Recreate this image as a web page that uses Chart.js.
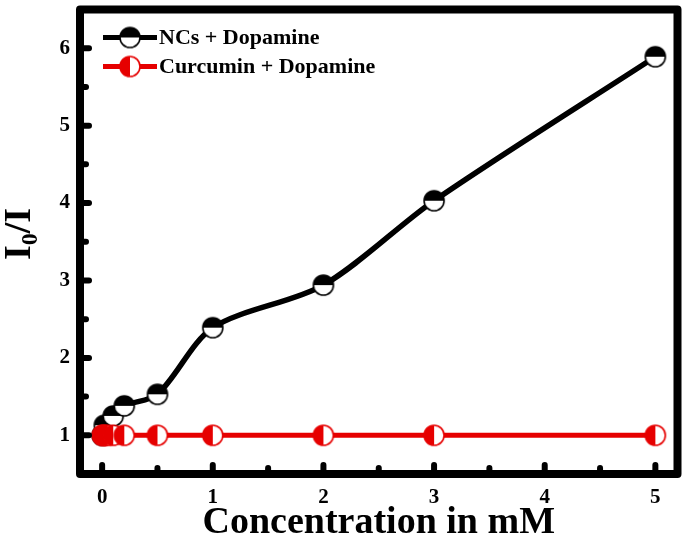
<!DOCTYPE html>
<html>
<head>
<meta charset="utf-8">
<script src="https://cdn.jsdelivr.net/npm/chart.js@4.4.0/dist/chart.umd.min.js"></script>
<style>
  html, body { margin: 0; padding: 0; background: #fff; }
  canvas { display: block; }
</style>
</head>
<body>
<canvas id="chart" width="687" height="540"></canvas>
<script>
/* Data */
const ncsConc = [0, 0.02, 0.1, 0.2, 0.5, 1, 2, 3, 5];
const ncsValues = [1.0, 1.13, 1.25, 1.38, 1.53, 2.39, 2.94, 4.03, 5.89];
const curConc = [0, 0.01, 0.02, 0.05, 0.1, 0.2, 0.5, 1, 2, 3, 5];
const curValues = [1, 1, 1, 1, 1, 1, 1, 1, 1, 1, 1];
const xTicks = [0, 0.5, 1, 1.5, 2, 2.5, 3, 3.5, 4, 4.5, 5];
const yTicks = [1, 1.5, 2, 2.5, 3, 3.5, 4, 4.5, 5, 5.5, 6];
const seriesNames = ["NCs + Dopamine", "Curcumin + Dopamine"];

const RED = "#e60000";
const FONT = "'Liberation Serif', 'Times New Roman', serif";

/* Half filled circle markers */
function halfMarker(color, split) {
    const c = document.createElement("canvas");
    c.width = 24; c.height = 24;
    const ctx = c.getContext("2d");
    const r = 10;
    ctx.beginPath();
    ctx.arc(12, 12, r, 0, Math.PI * 2);
    ctx.fillStyle = "#fff";
    ctx.fill();
    ctx.beginPath();
    if (split === "top") ctx.arc(12, 12, r, Math.PI, Math.PI * 2);
    else ctx.arc(12, 12, r, Math.PI / 2, Math.PI * 1.5);
    ctx.closePath();
    ctx.fillStyle = color;
    ctx.fill();
    ctx.beginPath();
    ctx.arc(12, 12, r, 0, Math.PI * 2);
    ctx.lineWidth = 1.6;
    ctx.strokeStyle = color;
    ctx.stroke();
    return c;
}

const ncsMarker = halfMarker("#000", "top");
const curMarker = halfMarker(RED, "left");

const toPoints = (xs, ys) => xs.map((x, i) => ({ x: x, y: ys[i] }));

/* Frame, inward ticks, axis titles, legend */
const decorPlugin = {
    id: "decor",
    afterDraw(chart) {
        const { ctx, chartArea: a, scales } = chart;
        ctx.save();

        // ticks
        ctx.strokeStyle = "#000";
        ctx.lineWidth = 6;
        ctx.lineCap = "round";
        scales.x.ticks.forEach(t => {
            const px = scales.x.getPixelForValue(t.value);
            const len = Number.isInteger(t.value) ? 9 : 6;
            ctx.beginPath();
            ctx.moveTo(px, a.bottom);
            ctx.lineTo(px, a.bottom - len);
            ctx.stroke();
        });
        scales.y.ticks.forEach(t => {
            const py = scales.y.getPixelForValue(t.value);
            const len = Number.isInteger(t.value) ? 9 : 6;
            ctx.beginPath();
            ctx.moveTo(a.left, py);
            ctx.lineTo(a.left + len, py);
            ctx.stroke();
        });

        // frame
        ctx.lineWidth = 8;
        ctx.lineJoin = "round";
        ctx.strokeRect(a.left, a.top, a.right - a.left, a.bottom - a.top);

        // x title
        ctx.fillStyle = "#000";
        ctx.font = "bold 38px " + FONT;
        ctx.textAlign = "center";
        ctx.textBaseline = "alphabetic";
        ctx.fillText("Concentration in mM", (a.left + a.right) / 2, 533);

        // y title with subscript
        ctx.save();
        ctx.translate(30, 234);
        ctx.rotate(-Math.PI / 2);
        ctx.textAlign = "left";
        ctx.font = "bold 38px " + FONT;
        const wI = ctx.measureText("I").width;
        ctx.font = "bold 24px " + FONT;
        const w0 = ctx.measureText("0").width;
        ctx.font = "bold 38px " + FONT;
        const wR = ctx.measureText("/I").width;
        const x0 = -(wI + w0 + wR) / 2;
        ctx.fillText("I", x0, 0);
        ctx.font = "bold 24px " + FONT;
        ctx.fillText("0", x0 + wI, 7);
        ctx.font = "bold 38px " + FONT;
        ctx.fillText("/I", x0 + wI + w0, 0);
        ctx.restore();

        // legend
        const rows = [
            { name: seriesNames[0], color: "#000", marker: ncsMarker },
            { name: seriesNames[1], color: RED, marker: curMarker }
        ];
        ctx.font = "bold 22px " + FONT;
        ctx.textAlign = "left";
        ctx.textBaseline = "middle";
        rows.forEach((r, i) => {
            const y = a.top + 28 + i * 29;
            const x1 = a.left + 23;
            ctx.strokeStyle = r.color;
            ctx.lineWidth = 5;
            ctx.lineCap = "butt";
            ctx.beginPath();
            ctx.moveTo(x1, y);
            ctx.lineTo(x1 + 54, y);
            ctx.stroke();
            ctx.drawImage(r.marker, x1 + 27 - 12, y - 12);
            ctx.fillStyle = "#000";
            ctx.fillText(r.name, x1 + 56, y + 1);
        });

        ctx.restore();
    }
};

new Chart(document.getElementById("chart"), {
    type: "line",
    data: {
        datasets: [
            {
                label: seriesNames[0],
                data: toPoints(ncsConc, ncsValues),
                borderColor: "#000",
                borderWidth: 5.5,
                tension: 0.3,
                pointStyle: ncsMarker,
                order: 1
            },
            {
                label: seriesNames[1],
                data: toPoints(curConc, curValues),
                borderColor: RED,
                borderWidth: 5,
                tension: 0,
                pointStyle: curMarker,
                order: 0
            }
        ]
    },
    options: {
        responsive: false,
        animation: false,
        devicePixelRatio: 1,
        layout: { padding: { top: 6, right: 8, left: 0, bottom: 0 } },
        plugins: {
            legend: { display: false },
            tooltip: { enabled: false }
        },
        scales: {
            x: {
                type: "linear",
                min: -0.2,
                max: 5.2,
                grid: { display: false },
                border: { display: false },
                afterBuildTicks: s => { s.ticks = xTicks.map(v => ({ value: v })); },
                afterFit: s => { s.height = 66; s.paddingLeft = 0; s.paddingRight = 0; },
                ticks: {
                    padding: 3,
                    color: "#000",
                    font: { family: FONT, size: 21, weight: "bold" },
                    callback: v => Number.isInteger(v) ? v : ""
                }
            },
            y: {
                type: "linear",
                min: 0.5,
                max: 6.5,
                grid: { display: false },
                border: { display: false },
                afterBuildTicks: s => { s.ticks = yTicks.map(v => ({ value: v })); },
                afterFit: s => { s.width = 80; s.paddingTop = 0; s.paddingBottom = 0; },
                ticks: {
                    padding: 2,
                    color: "#000",
                    font: { family: FONT, size: 21, weight: "bold" },
                    callback: v => Number.isInteger(v) ? v : ""
                }
            }
        }
    },
    plugins: [decorPlugin]
});
</script>
</body>
</html>
